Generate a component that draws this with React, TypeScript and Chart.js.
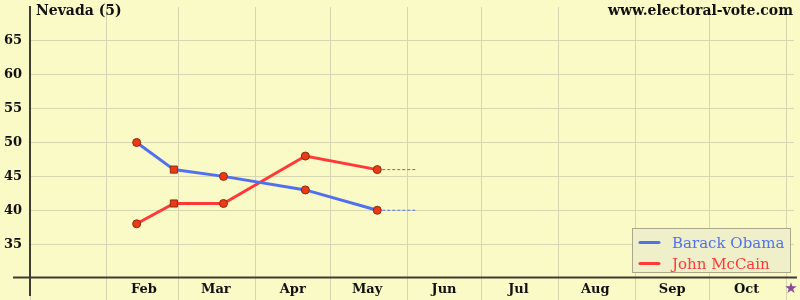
import React, { useEffect, useRef } from "react";
import { Chart, registerables } from "chart.js";

Chart.register(...registerables);

// ---- data ----
const TITLE = "Nevada (5)";
const SOURCE = "www.electoral-vote.com";
const MONTH_LABELS = ["Jan", "Feb", "Mar", "Apr", "May", "Jun", "Jul", "Aug", "Sep", "Oct", "Nov"];
const MONTH_STARTS = [
  "2008-01-01", "2008-02-01", "2008-03-01", "2008-04-01", "2008-05-01", "2008-06-01",
  "2008-07-01", "2008-08-01", "2008-09-01", "2008-10-01", "2008-11-01",
];
const HIDDEN_MONTH_LABELS = ["Jan", "Nov"];
const POLL_DATES = ["2008-02-13", "2008-02-28", "2008-03-19", "2008-04-21", "2008-05-20"];
const OBAMA = [50, 46, 45, 43, 40];
const MCCAIN = [38, 41, 41, 48, 46];
const POINT_STYLES = ["circle", "rect", "circle", "circle", "circle"];
const PROJECTION_END = "2008-06-05";
const START_DATE = "2008-01-01";
const ELECTION_DAY = "2008-11-04";
const Y_MIN = 30;
const Y_MAX = 70;
const Y_STEP = 5;
const SERIES_NAMES = ["Barack Obama", "John McCain"];

// ---- styles ----
const BG = "#fafac6";
const GRID = "#d6d6b0";
const AXIS = "#3d3d33";
const BLUE = "#5070ee";
const RED = "#ff3838";
const POINT_FILL = "#ee3a14";
const POINT_EDGE = "#8a2a10";
const SERIF = "'DejaVu Serif', serif";

const dayOf = (s: string) => (Date.parse(s) - Date.parse(START_DATE)) / 86400000;

export default function App() {
  const ref = useRef<HTMLCanvasElement | null>(null);

  useEffect(() => {
    document.body.style.margin = "0";
    const canvas = ref.current;
    if (!canvas) return;

    const toPts = (vals: number[]) => POLL_DATES.map((d, i) => ({ x: dayOf(d), y: vals[i] }));
    const lastX = dayOf(POLL_DATES[POLL_DATES.length - 1]);
    const projX = dayOf(PROJECTION_END);

    const bgPlugin = {
      id: "bg",
      beforeDraw(chart: any) {
        const { ctx, width, height } = chart;
        ctx.save();
        ctx.fillStyle = BG;
        ctx.fillRect(0, 0, width, height);
        ctx.restore();
      },
    };

    const axesPlugin = {
      id: "axesDeco",
      beforeDatasetsDraw(chart: any) {
        const { ctx, chartArea } = chart;
        ctx.save();
        ctx.strokeStyle = AXIS;
        ctx.lineWidth = 2;
        ctx.beginPath();
        ctx.moveTo(chartArea.left, 6);
        ctx.lineTo(chartArea.left, 296);
        ctx.moveTo(13, chartArea.bottom - 0.5);
        ctx.lineTo(chartArea.right + 3, chartArea.bottom - 0.5);
        ctx.stroke();
        ctx.restore();
      },
      afterDraw(chart: any) {
        const { ctx, scales } = chart;
        ctx.save();
        // titles
        ctx.fillStyle = "#111";
        ctx.font = `bold 14px ${SERIF}`;
        ctx.textBaseline = "alphabetic";
        ctx.textAlign = "left";
        ctx.fillText(TITLE, 36, 15);
        ctx.textAlign = "right";
        ctx.fillText(SOURCE, 793, 15);
        // election star
        ctx.fillStyle = "#8a4a98";
        ctx.font = `15px 'DejaVu Sans', sans-serif`;
        ctx.textAlign = "center";
        ctx.textBaseline = "middle";
        ctx.fillText("★", scales.x.getPixelForValue(dayOf(ELECTION_DAY)) - 3, 289);
        // legend
        const bx = 632, by = 228.5, bw = 158, bh = 44;
        ctx.fillStyle = "#efefca";
        ctx.fillRect(bx, by, bw, bh);
        ctx.strokeStyle = "#aaa888";
        ctx.lineWidth = 1;
        ctx.strokeRect(bx + 0.5, by, bw, bh);
        const colors = [BLUE, RED];
        const ys = [242.5, 263.5];
        ctx.font = `15px ${SERIF}`;
        ctx.textAlign = "left";
        ctx.textBaseline = "alphabetic";
        SERIES_NAMES.forEach((name, i) => {
          ctx.strokeStyle = colors[i];
          ctx.lineWidth = 3;
          ctx.lineCap = "round";
          ctx.beginPath();
          ctx.moveTo(640, ys[i]);
          ctx.lineTo(659, ys[i]);
          ctx.stroke();
          ctx.fillStyle = colors[i];
          ctx.fillText(name, 672, ys[i] + 5.5);
        });
        ctx.restore();
      },
    };

    const zeroPad = (scale: any) => {
      scale.paddingTop = 0;
      scale.paddingBottom = 0;
      scale.paddingLeft = 0;
      scale.paddingRight = 0;
    };

    const chart = new Chart(canvas, {
      type: "line",
      data: {
        datasets: [
          {
            label: SERIES_NAMES[0],
            data: toPts(OBAMA),
            borderColor: BLUE,
            borderWidth: 3,
            pointStyle: POINT_STYLES as any,
            pointRadius: POINT_STYLES.map((s) => (s === "rect" ? 5 : 4)),
            pointBackgroundColor: POINT_FILL,
            pointBorderColor: POINT_EDGE,
            pointBorderWidth: 1,
            tension: 0,
            order: 1,
          },
          {
            label: SERIES_NAMES[1],
            data: toPts(MCCAIN),
            borderColor: RED,
            borderWidth: 3,
            pointStyle: POINT_STYLES as any,
            pointRadius: POINT_STYLES.map((s) => (s === "rect" ? 5 : 4)),
            pointBackgroundColor: POINT_FILL,
            pointBorderColor: POINT_EDGE,
            pointBorderWidth: 1,
            tension: 0,
            order: 2,
          },
          {
            label: "proj-obama",
            data: [
              { x: lastX, y: OBAMA[OBAMA.length - 1] },
              { x: projX, y: OBAMA[OBAMA.length - 1] },
            ],
            borderColor: BLUE,
            borderWidth: 1,
            borderDash: [3, 2],
            pointRadius: 0,
            order: 3,
          },
          {
            label: "proj-mccain",
            data: [
              { x: lastX, y: MCCAIN[MCCAIN.length - 1] },
              { x: projX, y: MCCAIN[MCCAIN.length - 1] },
            ],
            borderColor: RED,
            borderWidth: 1,
            borderDash: [3, 2],
            pointRadius: 0,
            order: 3,
          },
        ],
      },
      options: {
        animation: false,
        responsive: false,
        devicePixelRatio: 1,
        layout: { padding: { top: 7, right: 6, left: 0, bottom: 0 } },
        plugins: { legend: { display: false }, tooltip: { enabled: false }, title: { display: false } },
        scales: {
          x: {
            type: "linear",
            min: 0,
            max: dayOf(ELECTION_DAY),
            afterBuildTicks: (scale: any) => {
              scale.ticks = MONTH_STARTS.map((d) => ({ value: dayOf(d) }));
            },
            afterFit: (scale: any) => {
              scale.height = 22;
              zeroPad(scale);
            },
            border: { display: false },
            grid: { color: GRID, lineWidth: 1, drawTicks: true, tickLength: 22, tickColor: GRID },
            ticks: {
              autoSkip: false,
              maxRotation: 0,
              padding: -18,
              labelOffset: 37,
              color: "#111",
              font: { family: SERIF, size: 13, weight: "bold" },
              callback: (_v: any, i: number) =>
                HIDDEN_MONTH_LABELS.includes(MONTH_LABELS[i]) ? "" : MONTH_LABELS[i],
            },
          },
          y: {
            type: "linear",
            min: Y_MIN,
            max: Y_MAX,
            afterBuildTicks: (scale: any) => {
              const t = [];
              for (let v = Y_MIN; v <= Y_MAX; v += Y_STEP) t.push({ value: v });
              scale.ticks = t;
            },
            afterFit: (scale: any) => {
              scale.width = 30;
              zeroPad(scale);
            },
            border: { display: false },
            grid: {
              drawTicks: false,
              color: (c: any) => (c.tick && (c.tick.value === Y_MIN || c.tick.value === Y_MAX) ? "rgba(0,0,0,0)" : GRID),
            },
            ticks: {
              padding: 8,
              color: "#111",
              font: { family: SERIF, size: 13, weight: "bold" },
              callback: (v: any) => (v === Y_MIN || v === Y_MAX ? "" : String(v)),
            },
          },
        },
      },
      plugins: [bgPlugin, axesPlugin],
    } as any);

    return () => chart.destroy();
  }, []);

  return <canvas ref={ref} width={800} height={300} style={{ display: "block" }} />;
}
